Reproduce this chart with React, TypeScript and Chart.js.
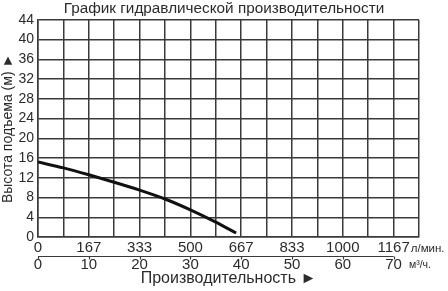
import React, { useEffect, useRef } from "react";
import { Chart, registerables } from "chart.js";

Chart.register(...registerables);

// Flow in m³/h and head in m
const flowM3h = [0, 5, 10, 15, 20, 25, 30, 35, 39];
const headM = [15.2, 14.0, 12.6, 11.1, 9.5, 7.7, 5.5, 3.0, 0.8];

// Tick labels: upper row (l/min) and lower row (m³/h) at each 10 m³/h
const tickM3h = [0, 10, 20, 30, 40, 50, 60, 70];
const tickLpm = ["0", "167", "333", "500", "667", "833", "1000", "1167"];
const tickHead = [0, 4, 8, 12, 16, 20, 24, 28, 32, 36, 40, 44];

const titleText = "График гидравлической производительности";
const yTitle = "Высота подъема (м) ►";
const xTitle = "Производительность ►";
const unitLpm = "л/мин.";
const unitM3h = "м³/ч.";

const FONT = "'Liberation Sans', Arial, sans-serif";
const TEXT = "#2b2b2b";
const GRID = "#3a3a3a";

export default function App() {
  const ref = useRef<HTMLCanvasElement>(null);

  useEffect(() => {
    const canvas = ref.current;
    if (!canvas) return;

    const extras = {
      id: "extras",
      afterDraw(chart: any) {
        const ctx = chart.ctx;
        const x = chart.scales.x;
        const x2 = chart.scales.x2;
        ctx.save();
        // separator line between the two label rows
        const y0 = Math.round(x2.top) + 0.5;
        ctx.strokeStyle = GRID;
        ctx.lineWidth = 1.2;
        ctx.beginPath();
        ctx.moveTo(x.getPixelForValue(tickM3h[0]), y0);
        ctx.lineTo(x.getPixelForValue(tickM3h[tickM3h.length - 1]), y0);
        ctx.stroke();
        tickM3h.forEach((v) => {
          const px = Math.round(x.getPixelForValue(v)) + 0.5;
          ctx.beginPath();
          ctx.moveTo(px, y0);
          ctx.lineTo(px, y0 + 3);
          ctx.stroke();
        });
        // units after the last labels
        ctx.fillStyle = TEXT;
        ctx.textAlign = "left";
        ctx.textBaseline = "middle";
        const lastPx = x.getPixelForValue(tickM3h[tickM3h.length - 1]);
        ctx.font = `15px ${FONT}`;
        const w1 = ctx.measureText(tickLpm[tickLpm.length - 1]).width;
        const w2 = ctx.measureText(String(tickM3h[tickM3h.length - 1])).width;
        ctx.font = `11.5px ${FONT}`;
        ctx.fillText(unitLpm, lastPx + w1 / 2 + 1, 249);
        ctx.font = `10.5px ${FONT}`;
        ctx.fillText(unitM3h, lastPx + w2 / 2 + 7, 265);
        ctx.restore();
      },
    };

    const chart = new Chart(canvas, {
      type: "line",
      data: {
        datasets: [
          {
            data: flowM3h.map((f, i) => ({ x: f, y: headM[i] })),
            borderColor: "#111",
            borderWidth: 3,
            pointRadius: 0,
            tension: 0.4,
            cubicInterpolationMode: "monotone",
            fill: false,
          },
        ],
      },
      plugins: [extras],
      options: {
        responsive: false,
        animation: false,
        layout: { padding: 0 },
        plugins: {
          legend: { display: false },
          tooltip: { enabled: false },
          title: {
            display: true,
            text: titleText,
            color: TEXT,
            font: { family: FONT, size: 15.3, weight: "normal", lineHeight: 1.1 },
            padding: { top: 0, bottom: 3 },
          },
        },
        scales: {
          x: {
            type: "linear",
            position: "bottom",
            min: 0,
            max: 75,
            afterFit: (s: any) => {
              s.height = 19;
            },
            afterBuildTicks: (s: any) => {
              const t = [];
              for (let v = 0; v <= 75; v += 5) t.push({ value: v });
              s.ticks = t;
            },
            ticks: {
              autoSkip: false,
              maxRotation: 0,
              padding: 2,
              color: TEXT,
              font: { family: FONT, size: 15 },
              callback: (v: any) => {
                const i = tickM3h.indexOf(Number(v));
                return i >= 0 ? tickLpm[i] : "";
              },
            },
            grid: { color: GRID, lineWidth: 1.5, drawTicks: false },
            border: { color: GRID, width: 1.5 },
          },
          x2: {
            type: "linear",
            position: "bottom",
            min: 0,
            max: 75,
            afterFit: (s: any) => {
              s.height = 35;
            },
            afterBuildTicks: (s: any) => {
              s.ticks = tickM3h.map((v) => ({ value: v }));
            },
            ticks: {
              autoSkip: false,
              maxRotation: 0,
              padding: 0,
              color: TEXT,
              font: { family: FONT, size: 15 },
              callback: (v: any) => String(v),
            },
            grid: { display: false, drawTicks: false },
            border: { display: false },
            title: {
              display: true,
              text: xTitle,
              color: TEXT,
              font: { family: FONT, size: 16 },
              padding: { top: 0, bottom: 3 },
            },
          },
          y: {
            type: "linear",
            min: 0,
            max: 44,
            afterFit: (s: any) => {
              s.width = 38;
            },
            afterBuildTicks: (s: any) => {
              s.ticks = tickHead.map((v) => ({ value: v }));
            },
            ticks: {
              autoSkip: false,
              padding: 4,
              color: TEXT,
              font: { family: FONT, size: 14 },
            },
            grid: { color: GRID, lineWidth: 1.5, drawTicks: false },
            border: { color: GRID, width: 1.5 },
            title: {
              display: true,
              text: yTitle,
              color: TEXT,
              font: { family: FONT, size: 14 },
              padding: { top: 0, bottom: 0 },
            },
          },
          yRight: {
            type: "linear",
            position: "right",
            min: 0,
            max: 44,
            afterFit: (s: any) => {
              s.width = 29;
            },
            ticks: { display: false },
            grid: { display: false, drawTicks: false },
            border: { display: false },
          },
        },
      },
    } as any);

    return () => chart.destroy();
  }, []);

  return (
    <div style={{ position: "fixed", left: 0, top: 0, width: 448, height: 291, background: "#fff" }}>
      <canvas ref={ref} width={448} height={291} />
    </div>
  );
}
